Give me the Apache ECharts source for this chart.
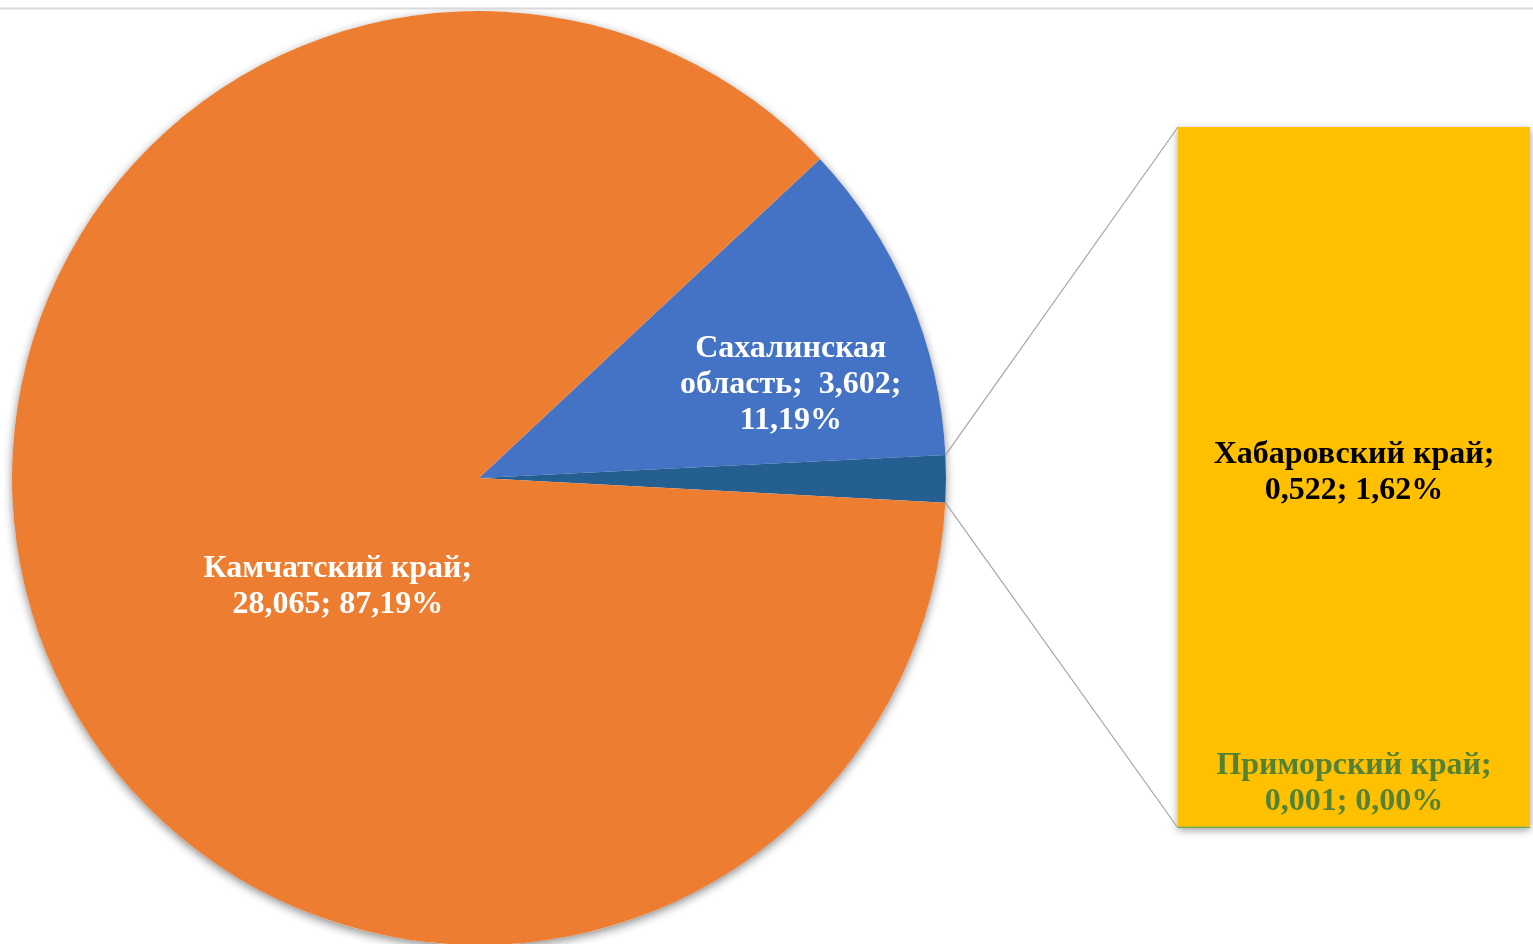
<!DOCTYPE html>
<html>
<head>
<meta charset="utf-8">
<script src="https://cdn.jsdelivr.net/npm/echarts@6/dist/echarts.min.js"></script>
<style>
html,body{margin:0;padding:0;background:#fff;}
#chart{width:1533px;height:944px;}
</style>
</head>
<body>
<div id="chart"></div>
<script>
// ---- data ----
const pieNames = ['Сахалинская область', 'Камчатский край'];
const pieValues = [3.602, 28.065];
const barNames = ['Приморский край', 'Хабаровский край'];
const barValues = [0.001, 0.522];
const otherName = 'Прочие';

// ---- styling / layout ----
const FONT = '"Liberation Serif", "Times New Roman", serif';
const pieCenter = [479, 478];
const pieRadius = 467;
const startAngle = 43.1;
const barGrid = { left: 1178, top: 127, width: 352, height: 701 };

const otherValue = barValues.reduce((a, b) => a + b, 0);
const total = pieValues.reduce((a, b) => a + b, 0) + otherValue;
const fmtVal = v => v.toFixed(3).replace('.', ',');
const fmtPct = v => (v / total * 100).toFixed(2).replace('.', ',') + '%';

const pieData = [
  { name: pieNames[0], value: pieValues[0], itemStyle: { color: '#4472C4' },
    label: { offset: [94, -1], formatter: p => p.name.replace(' ', '\n') + ';  ' + fmtVal(p.value) + ';\n' + fmtPct(p.value) } },
  { name: otherName, value: otherValue, itemStyle: { color: '#255E91' }, label: { show: false } },
  { name: pieNames[1], value: pieValues[1], itemStyle: { color: '#ED7D31' },
    label: { offset: [81, 28], formatter: p => p.name + ';\n' + fmtVal(p.value) + '; ' + fmtPct(p.value) } }
];

const labelBase = { fontFamily: FONT, fontWeight: 'bold', fontSize: 32, lineHeight: 36, overflow: 'none' };

const chart = echarts.init(document.getElementById('chart'), null, { renderer: 'canvas' });

const option = {
  backgroundColor: '#ffffff',
  animation: false,
  grid: { left: barGrid.left, top: barGrid.top, width: barGrid.width, height: barGrid.height },
  xAxis: { type: 'category', data: ['bar'], show: false },
  yAxis: { type: 'value', min: 0, max: otherValue, show: false },
  series: [
    { // shadow disc behind the pie
      type: 'pie', center: pieCenter, radius: pieRadius, silent: true, z: 1,
      label: { show: false }, labelLine: { show: false },
      data: [{ value: 1, itemStyle: { color: '#ffffff', shadowBlur: 10, shadowColor: 'rgba(0,0,0,0.45)', shadowOffsetY: 3 } }]
    },
    {
      type: 'pie', center: pieCenter, radius: pieRadius, startAngle: startAngle, clockwise: true, z: 2,
      avoidLabelOverlap: false,
      label: Object.assign({ show: true, position: 'inside', color: '#ffffff', align: 'center' }, labelBase),
      labelLine: { show: false },
      itemStyle: { borderWidth: 0 },
      data: pieData
    },
    {
      type: 'bar', name: barNames[0], stack: 'b', barWidth: '100%', z: 4,
      data: [barValues[0]].map(v => ({ value: v })),
      itemStyle: { color: '#70AD47' },
      label: Object.assign({ show: true, position: 'top', distance: 7, color: '#548235',
        formatter: p => p.seriesName + ';\n' + fmtVal(p.value) + '; ' + fmtPct(p.value) }, labelBase)
    },
    {
      type: 'bar', name: barNames[1], stack: 'b', barWidth: '100%', z: 2,
      data: [barValues[1]].map(v => ({ value: v })),
      itemStyle: { color: '#FFC000', shadowBlur: 8, shadowColor: 'rgba(0,0,0,0.4)', shadowOffsetY: 3 },
      label: Object.assign({ show: true, position: 'inside', offset: [0, -4], color: '#000000',
        formatter: p => p.seriesName + ';\n' + fmtVal(p.value) + '; ' + fmtPct(p.value) }, labelBase)
    }
  ]
};
chart.setOption(option);

// connector lines from the "other" slice edges to the bar corners
const toRad = d => d * Math.PI / 180;
const otherStart = startAngle - pieValues[0] / total * 360;
const otherEnd = otherStart - otherValue / total * 360;
const edge = a => [pieCenter[0] + pieRadius * Math.cos(toRad(a)), pieCenter[1] - pieRadius * Math.sin(toRad(a))];
const p1 = edge(otherStart), p2 = edge(otherEnd);
const barTopLeft = [barGrid.left, chart.convertToPixel({ yAxisIndex: 0 }, otherValue)];
const barBotLeft = [barGrid.left, chart.convertToPixel({ yAxisIndex: 0 }, 0)];
chart.setOption({
  graphic: [
    { type: 'line', z: 10, shape: { x1: 0, y1: 8.5, x2: 1533, y2: 8.5 }, style: { stroke: '#D9D9D9', lineWidth: 2 } },
    { type: 'line', z: 10, shape: { x1: p1[0], y1: p1[1], x2: barTopLeft[0], y2: barTopLeft[1] }, style: { stroke: '#A5A5A5', lineWidth: 1.2 } },
    { type: 'line', z: 10, shape: { x1: p2[0], y1: p2[1], x2: barBotLeft[0], y2: barBotLeft[1] }, style: { stroke: '#A5A5A5', lineWidth: 1.2 } }
  ]
});
</script>
</body>
</html>
